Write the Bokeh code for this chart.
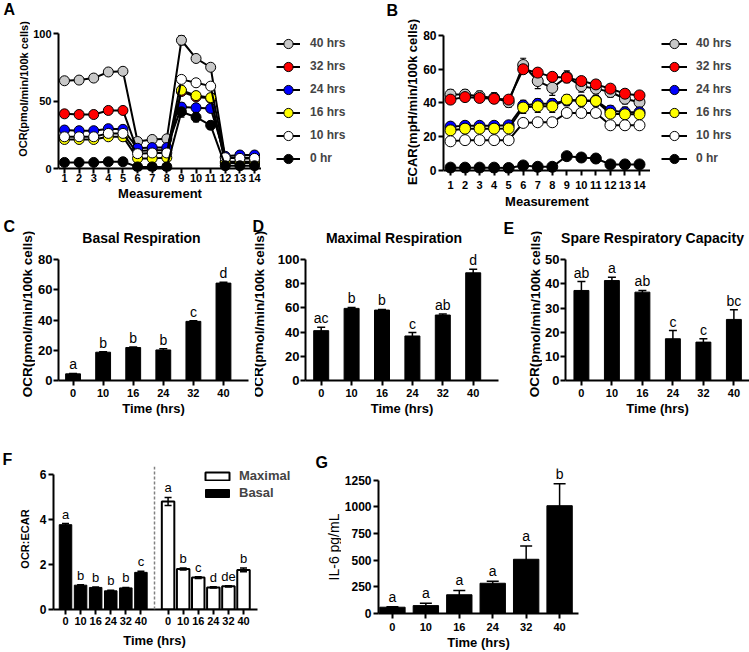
from bokeh.plotting import figure
from bokeh.models import (ColumnDataSource, Whisker, TeeHead, Legend, LegendItem,
                          Label, Span, FixedTicker, Range1d)
from bokeh.layouts import row, column
from bokeh.embed import file_html
from bokeh.resources import INLINE
from bokeh.core.properties import value

FONT = "Liberation Sans"

# ---------------- data ----------------
measurement = list(range(1, 15))
series_labels = ["40 hrs", "32 hrs", "24 hrs", "16 hrs", "10 hrs", "0 hr"]
series_colors = ["#c8c8c8", "#ff0000", "#0000ff", "#ffff00", "#ffffff", "#000000"]

ocr_40hrs = [65, 65.5, 67, 71.5, 72, 20, 21.5, 22, 95, 81.5, 75, 8, 8, 8]
ocr_32hrs = [40.5, 40, 40, 43, 43, 13, 13.5, 13.5, 57, 53, 52, 5, 5, 5]
ocr_24hrs = [28.5, 28, 28, 29.5, 29, 15, 15.5, 15.5, 45.5, 45, 44.5, 9, 10, 10]
ocr_16hrs = [21.5, 21.5, 21.5, 23.5, 23.5, 7.5, 7.5, 8, 58, 54, 52.5, 4, 4, 4]
ocr_10hrs = [23.5, 23.5, 23.5, 26, 26, 11, 11.5, 11.5, 66, 63.5, 61, 8, 7.5, 7.5]
ocr_0hr = [4.5, 4.5, 4.5, 5, 5, 1.2, 1.2, 1.2, 42, 38, 32, 2, 2, 2]

ocr_40hrs_sem = [1, 1, 1, 1, 1, 1.5, 1.5, 1.5, 3.5, 2.5, 2, 1, 1, 1]
ocr_32hrs_sem = [1, 1, 1, 1, 1, 1, 1, 1, 2.5, 2.5, 2.5, 0.5, 0.5, 0.5]
ocr_24hrs_sem = [1, 1, 1, 1, 1, 1, 1, 1, 3, 2.5, 2.5, 0.5, 0.5, 0.5]
ocr_16hrs_sem = [1, 1, 1, 1, 1, 1, 1, 1, 3, 3, 3, 0.5, 0.5, 0.5]
ocr_10hrs_sem = [1, 1, 1, 1, 1, 1, 1, 1, 1.5, 1.5, 1.5, 0.5, 0.5, 0.5]
ocr_0hr_sem = [0.5, 0.5, 0.5, 0.5, 0.5, 0.5, 0.5, 0.5, 4, 3.5, 3, 0.5, 0.5, 0.5]

ecar_40hrs = [45, 45, 44, 43, 40.5, 62.5, 53, 49, 55.5, 50, 48.5, 46.5, 42.5, 40.5]
ecar_32hrs = [42, 43.5, 43, 42.5, 42, 60, 58, 55.5, 55, 53, 51, 48.5, 45.5, 44.5]
ecar_24hrs = [26, 26.5, 26.5, 26.5, 26.8, 38.5, 39.5, 39.5, 41.5, 41.5, 41.5, 35.5, 34.5, 34.5]
ecar_16hrs = [23.8, 24.8, 24.8, 24.8, 24.9, 37.3, 38, 38, 42, 41.2, 41.2, 33.7, 33.3, 33.3]
ecar_10hrs = [17.3, 18, 18, 18, 18, 28.2, 28.6, 28.6, 34.1, 34.1, 34.1, 26.8, 26.8, 26.8]
ecar_0hr = [1.7, 1.7, 1.7, 1.7, 1.5, 3, 2.2, 2.2, 8.5, 7.7, 7.1, 3.6, 3.6, 3.6]

ecar_40hrs_sem = [3, 3, 3, 3, 3, 4, 4.5, 4.5, 3.5, 3.5, 3, 3, 3, 3]
ecar_32hrs_sem = [1.5, 1.5, 1.5, 1.5, 1.5, 2, 2, 2, 2, 2, 2, 1.5, 1.5, 1.5]
ecar_24hrs_sem = [1.5, 1.5, 1.5, 1.5, 1.5, 3, 3, 3, 3, 3, 3, 3, 3, 3]
ecar_16hrs_sem = [1, 1, 1, 1, 1, 3.5, 3.5, 3.5, 3, 3, 3, 2, 2, 2]
ecar_10hrs_sem = [1, 1, 1, 1, 1, 1, 1, 1, 1, 1, 1, 1, 1, 1]
ecar_0hr_sem = [0.5] * 14

time_hrs = ["0", "10", "16", "24", "32", "40"]

basal_ocr = [4.4, 18.7, 21.8, 20.2, 39.1, 64.4]
basal_ocr_sem = [0.3, 0.3, 0.3, 0.8, 0.4, 0.5]
basal_ocr_sig = ["a", "b", "b", "b", "c", "d"]

maximal_ocr = [41.2, 59.6, 58.2, 36.8, 54.1, 89.0]
maximal_ocr_sem = [2.8, 0.8, 0.5, 2.8, 0.8, 3.0]
maximal_ocr_sig = ["ac", "b", "b", "c", "ab", "d"]

spare_ocr = [37.3, 41.4, 36.6, 17.3, 15.9, 25.3]
spare_ocr_sem = [3.7, 1.4, 0.7, 3.4, 1.4, 4.0]
spare_ocr_sig = ["ab", "a", "ab", "c", "c", "bc"]

ratio_basal = [3.77, 1.08, 0.98, 0.83, 0.96, 1.65]
ratio_basal_sem = [0.05, 0.02, 0.02, 0.02, 0.02, 0.05]
ratio_basal_sig = ["a", "b", "b", "b", "b", "c"]

ratio_maximal = [4.8, 1.8, 1.42, 0.98, 1.03, 1.76]
ratio_maximal_sem = [0.18, 0.04, 0.04, 0.03, 0.03, 0.08]
ratio_maximal_sig = ["a", "b", "c", "d", "de", "b"]

il6 = [59, 74, 176, 284, 509, 1012]
il6_sem = [4, 22, 40, 18, 124, 207]
il6_sig = ["a", "a", "a", "a", "a", "b"]


# ---------------- helpers ----------------
def wrap(p):
    # a one-child column keeps Bokeh from aligning the frames of neighbouring figures
    return column(p)


def base_fig(W, H, xr, yr, borders, axes=True):
    l, r, t, b = borders
    kw = dict(width=W, height=H, x_range=xr, y_range=yr,
              min_border_left=l, min_border_right=r, min_border_top=t, min_border_bottom=b,
              output_backend="svg", toolbar_location=None, tools="", title=None)
    if not axes:
        kw.update(x_axis_type=None, y_axis_type=None)
    p = figure(**kw)
    p.outline_line_color = None
    p.background_fill_color = "white"
    p.border_fill_color = "white"
    if axes:
        p.xgrid.visible = False
        p.ygrid.visible = False
    return p


def make_plot(box, frame, xcal, ycal):
    x0, y0, x1, y1 = box
    fl, ft, fr, fb = frame
    (pa, va), (pb, vb) = xcal
    kx = (pb - pa) / (vb - va)
    xs = va - (pa - fl) / kx
    xe = va + (fr - pa) / kx
    (qa, wa), (qb, wb) = ycal
    ky = (qa - qb) / (wb - wa)
    ys = wa - (fb - qa) / ky
    ye = wa + (qa - ft) / ky
    p = base_fig(round(x1 - x0), round(y1 - y0), Range1d(xs, xe), Range1d(ys, ye),
                 (round(fl - x0), round(x1 - fr), round(ft - y0), round(y1 - fb)))
    g = dict(xs=xs, ys=ys, kx=kx, ky=ky, fl=fl, fb=fb, fr=fr, ft=ft)
    return p, g


def px_to_x(g, px):
    return g["xs"] + (px - g["fl"]) / g["kx"]


def make_strip(box, texts):
    """A figure without axes whose frame is the whole box; it only carries texts."""
    x0, y0, x1, y1 = box
    W = round(x1 - x0)
    H = round(y1 - y0)
    p = base_fig(W, H, Range1d(0, W), Range1d(0, H), (0, 0, 0, 0), axes=False)
    for t in texts:
        rx, ry, text, size, bold, align = t[:6]
        angle = t[6] if len(t) > 6 else 0.0
        p.add_layout(Label(x=rx - x0, y=H - (ry - y0), text=text, text_font=FONT,
                           text_font_size=f"{size}px",
                           text_font_style="bold" if bold else "normal",
                           text_align=align, text_baseline="middle", angle=angle,
                           text_color="black"))
    return p


def style_axes(p, xticks, yticks, xfs, yfs, xlabels=None, xbounds=None, ybounds=None,
               x_standoff=1, y_standoff=2, xlab=None, xlab_fs=13, xals=2):
    xa = p.xaxis[0]
    ya = p.yaxis[0]
    for ax in (xa, ya):
        ax.axis_line_width = 2
        ax.axis_line_color = "black"
        ax.major_tick_line_width = 2
        ax.major_tick_line_color = "black"
        ax.major_tick_in = 0
        ax.major_tick_out = 5
        ax.minor_tick_line_color = None
        ax.major_label_text_font = FONT
        ax.major_label_text_font_style = "bold"
        ax.major_label_text_color = "black"
        ax.axis_label_text_font = FONT
        ax.axis_label_text_color = "black"
    xa.ticker = FixedTicker(ticks=xticks)
    ya.ticker = FixedTicker(ticks=yticks)
    if xlabels is not None:
        xa.major_label_overrides = {t: l for t, l in zip(xticks, xlabels)}
    xa.major_label_text_font_size = f"{xfs}px"
    ya.major_label_text_font_size = f"{yfs}px"
    xa.major_label_standoff = x_standoff
    ya.major_label_standoff = y_standoff
    if xbounds is not None:
        xa.bounds = xbounds
    if ybounds is not None:
        ya.bounds = ybounds
    if xlab:
        xa.axis_label = xlab
        xa.axis_label_text_font_size = f"{xlab_fs}px"
        xa.axis_label_text_font_style = "bold"
        xa.axis_label_standoff = xals
    return xa, ya


def series_sources(vals_list, sems_list):
    out = []
    for vals, sems in zip(vals_list, sems_list):
        out.append(ColumnDataSource(dict(x=measurement, y=vals,
                                         lo=[v - e for v, e in zip(vals, sems)],
                                         hi=[v + e for v, e in zip(vals, sems)])))
    return out


def line_series(p, sources, size):
    for col, src in zip(series_colors, sources):
        wh = Whisker(base="x", upper="hi", lower="lo", source=src, dimension="height",
                     line_color="black", line_width=1.2, level="underlay",
                     upper_head=TeeHead(size=6, line_color="black", line_width=1.2),
                     lower_head=TeeHead(size=6, line_color="black", line_width=1.2))
        p.add_layout(wh)
        p.line("x", "y", source=src, line_color="black", line_width=2)
        p.scatter("x", "y", source=src, size=size, fill_color=col, line_color="black", line_width=1)


def legend_fig(box, sources, gw, gh, glyph_left, first_center, standoff):
    """Separate figure holding only the series legend (its renderers are hidden copies)."""
    x0, y0, x1, y1 = box
    W = round(x1 - x0)
    H = round(y1 - y0)
    p = base_fig(W, H, Range1d(0, 1), Range1d(0, 1), (0, 0, 0, 0), axes=False)
    items = []
    for lab, col, src in zip(series_labels, series_colors, sources):
        lr = p.line("x", "y", source=src, line_color="black", line_width=2, visible=False)
        sr = p.scatter("x", "y", source=src, size=10, fill_color=col, line_color="black",
                       line_width=1, visible=False)
        items.append(LegendItem(label=lab, renderers=[lr, sr]))
    n = len(items)
    h = n * gh
    top = first_center - gh / 2 - y0
    leg = Legend(items=items, location=(glyph_left - x0, H - top - h), glyph_width=gw,
                 glyph_height=gh, label_height=gh, spacing=0, padding=0, margin=0,
                 border_line_color=None, background_fill_alpha=0, label_standoff=standoff,
                 inactive_fill_alpha=0,
                 label_text_font=FONT, label_text_font_style="bold", label_text_font_size="12px")
    p.add_layout(leg)
    return p


def bars(p, pos, vals, sems, sig, width, cap, fill="black", lw=1, fs=14, yoff=-1):
    src = ColumnDataSource(dict(x=pos, top=vals,
                                lo=[v - e for v, e in zip(vals, sems)],
                                hi=[v + e for v, e in zip(vals, sems)], lab=sig))
    r = p.vbar(x="x", top="top", width=width, source=src, fill_color=fill,
               line_color="black", line_width=lw)
    wh = Whisker(base="x", upper="hi", lower="lo", source=src, dimension="height",
                 line_color="black", line_width=1.5, level="annotation",
                 upper_head=TeeHead(size=cap, line_color="black", line_width=1.5),
                 lower_head=TeeHead(size=cap, line_color="black", line_width=1.5))
    p.add_layout(wh)
    p.text(x="x", y="hi", text="lab", source=src, text_align="center",
           text_baseline="bottom", y_offset=yoff, text_font=value(FONT),
           text_font_size=value(f"{fs}px"), text_color="black")
    return r


idx = list(range(len(time_hrs)))
ROT = 1.5707963

# ---------------- Row 1 (A, B) ----------------
gutA = make_strip((0, 0, 30, 212), [(3, 9, "A", 16, True, "left"),
                                    (23, 88.5, "OCR(pmol/min/100k cells)", 11, True, "center", ROT)])
srcA = series_sources([ocr_40hrs, ocr_32hrs, ocr_24hrs, ocr_16hrs, ocr_10hrs, ocr_0hr],
                      [ocr_40hrs_sem, ocr_32hrs_sem, ocr_24hrs_sem, ocr_16hrs_sem, ocr_10hrs_sem, ocr_0hr_sem])
pA, gA = make_plot((30, 0, 261, 212), (57, 25, 261, 171), ((63, 1), (254, 14)), ((168, 0), (33, 100)))
line_series(pA, srcA, 10)
xa, ya = style_axes(pA, measurement, [0, 50, 100], 11, 11, xbounds=(gA["xs"], px_to_x(gA, 258)),
                    ybounds=(0, 100), x_standoff=0, y_standoff=2, xlab="Measurement", xlab_fs=13, xals=1)
xa.axis_line_color = None
xa.major_tick_in = 3
xa.major_tick_out = 2
pA.add_layout(Span(location=0, dimension="width", line_color="black", line_width=2))
legA = legend_fig((261, 0, 350, 212), srcA, 24, 23, 276, 43, 10)

gutB = make_strip((350, 0, 420, 212), [(386, 10, "B", 16, True, "left"),
                                       (412, 101.5, "ECAR(mpH/min/100k cells)", 13, True, "center", ROT)])
srcB = series_sources([ecar_40hrs, ecar_32hrs, ecar_24hrs, ecar_16hrs, ecar_10hrs, ecar_0hr],
                      [ecar_40hrs_sem, ecar_32hrs_sem, ecar_24hrs_sem, ecar_16hrs_sem, ecar_10hrs_sem, ecar_0hr_sem])
pB, gB = make_plot((420, 0, 650, 212), (443, 28, 650, 173.3), ((450, 1), (639, 14)), ((170.3, 0), (35, 80)))
line_series(pB, srcB, 11)
xa, ya = style_axes(pB, measurement, [0, 20, 40, 60, 80], 11, 12, xbounds=(gB["xs"], px_to_x(gB, 647)),
                    ybounds=(0, 80), x_standoff=5, y_standoff=2, xlab="Measurement", xlab_fs=13, xals=2)
xa.axis_line_color = None
xa.major_tick_in = 3
xa.major_tick_out = 2
pB.add_layout(Span(location=0, dimension="width", line_color="black", line_width=2))
legB = legend_fig((650, 0, 749, 212), srcB, 26, 23, 661, 43, 9)

# ---------------- Row 2 (C, D, E) ----------------
gutC = make_strip((0, 212, 35, 420), [(3, 226, "C", 16, True, "left"),
                                      (27, 313.5, "OCR(pmol/min/100k cells)", 13.5, True, "center", ROT)])
stripC = make_strip((35, 212, 250, 247), [(141, 237.5, "Basal Respiration", 14, True, "center")])
pC, gC = make_plot((35, 247, 250, 420), (56, 247, 248, 380), ((70.7, 0), (222.7, 5)), ((380, 0), (259, 80)))
bars(pC, idx, basal_ocr, basal_ocr_sem, basal_ocr_sig, 15 / gC["kx"], 8)
style_axes(pC, idx, [0, 20, 40, 60, 80], 11, 13, xlabels=time_hrs, ybounds=(0, 80),
           x_standoff=3, y_standoff=1, xlab="Time (hrs)", xlab_fs=13, xals=1)

gutD = make_strip((250, 212, 268, 420), [(252, 226, "D", 16, True, "left"),
                                         (258.5, 313.5, "OCR(pmol/min/100k cells)", 13.5, True, "center", ROT)])
stripD = make_strip((268, 212, 500, 247), [(393.5, 237.5, "Maximal Respiration", 14, True, "center")])
pD, gD = make_plot((268, 247, 500, 420), (305, 247, 498, 380), ((320.7, 0), (472.7, 5)), ((380, 0), (259, 100)))
bars(pD, idx, maximal_ocr, maximal_ocr_sem, maximal_ocr_sig, 15 / gD["kx"], 8)
style_axes(pD, idx, [0, 20, 40, 60, 80, 100], 11, 13, xlabels=time_hrs, ybounds=(0, 100),
           x_standoff=3, y_standoff=1, xlab="Time (hrs)", xlab_fs=13, xals=1)

gutE = make_strip((500, 212, 542, 420), [(503, 228, "E", 16, True, "left"),
                                         (534.5, 313.5, "OCR(pmol/min/100k cells)", 13.5, True, "center", ROT)])
stripE = make_strip((542, 212, 749, 247), [(652, 237.5, "Spare Respiratory Capacity", 14, True, "center")])
pE, gE = make_plot((542, 247, 749, 420), (564, 247, 749, 380), ((580, 0), (733.3, 5)), ((380, 0), (259.3, 50)))
bars(pE, idx, spare_ocr, spare_ocr_sem, spare_ocr_sig, 15 / gE["kx"], 8)
style_axes(pE, idx, [0, 10, 20, 30, 40, 50], 11, 13, xlabels=time_hrs, ybounds=(0, 50),
           x_standoff=3, y_standoff=1, xlab="Time (hrs)", xlab_fs=13, xals=1)

# ---------------- Row 3 (F, G) ----------------
gutF = make_strip((0, 420, 33, 652), [(2, 459, "F", 16, True, "left"),
                                      (24, 538.5, "OCR:ECAR", 11, True, "center", ROT)])
pF, gF = make_plot((33, 420, 312, 631), (53, 466, 296, 609.3), ((65, 0), (243, 59)), ((609.3, 0), (474, 6)))
pos_basal = [5 * i for i in idx]
pos_max = [pos_basal[-1] + 9 + 5 * i for i in idx]
rb = bars(pF, pos_basal, ratio_basal, ratio_basal_sem, ratio_basal_sig, 12.5 / gF["kx"], 7, fs=13, yoff=-2)
rm = bars(pF, pos_max, ratio_maximal, ratio_maximal_sem, ratio_maximal_sig, 12.5 / gF["kx"], 7,
          fill="white", lw=2, fs=13, yoff=-2)
pF.add_layout(Span(location=(pos_basal[-1] + pos_max[0]) / 2, dimension="height",
                   line_color="#808080", line_width=1.5, line_dash="3 2"))
style_axes(pF, pos_basal + pos_max, [0, 2, 4, 6], 11, 12, xlabels=time_hrs + time_hrs,
           xbounds=(gF["xs"], px_to_x(gF, 257)), ybounds=(0, 6), x_standoff=2, y_standoff=2)
legF = Legend(items=[LegendItem(label="Maximal", renderers=[rm]), LegendItem(label="Basal", renderers=[rb])],
              location=(202 - 53, 609.3 - (467.5 + 34)), glyph_width=30, glyph_height=10,
              label_height=17, spacing=0, padding=0, margin=0, border_line_color=None,
              background_fill_alpha=0, label_standoff=7, label_text_font=FONT,
              label_text_font_style="bold", label_text_font_size="13px")
pF.add_layout(legF)
stripFb = make_strip((33, 631, 312, 652), [(154, 640, "Time (hrs)", 13, True, "center")])

gutG = make_strip((312, 420, 341, 652), [(315, 462, "G", 16, True, "left"),
                                         (333.5, 546.5, "IL-6 pg/mL", 14, False, "center", ROT)])
pG, gG = make_plot((341, 420, 749, 652), (377, 468, 578, 615), ((391, 0), (559, 5)), ((615, 0), (480, 1250)))
bars(pG, idx, il6, il6_sem, il6_sig, 25.5 / gG["kx"], 12, fs=14, yoff=-2)
style_axes(pG, idx, [0, 250, 500, 750, 1000, 1250], 11, 12, xlabels=time_hrs, ybounds=(0, 1250),
           x_standoff=4, y_standoff=2, xlab="Time (hrs)", xlab_fs=13, xals=1)

layout = column(
    row(wrap(gutA), wrap(pA), wrap(legA), wrap(gutB), wrap(pB), wrap(legB)),
    row(wrap(gutC), column(wrap(stripC), wrap(pC)), wrap(gutD), column(wrap(stripD), wrap(pD)),
        wrap(gutE), column(wrap(stripE), wrap(pE))),
    row(wrap(gutF), column(wrap(pF), wrap(stripFb)), wrap(gutG), wrap(pG)),
)
open("out.html", "w").write(file_html(layout, INLINE))
